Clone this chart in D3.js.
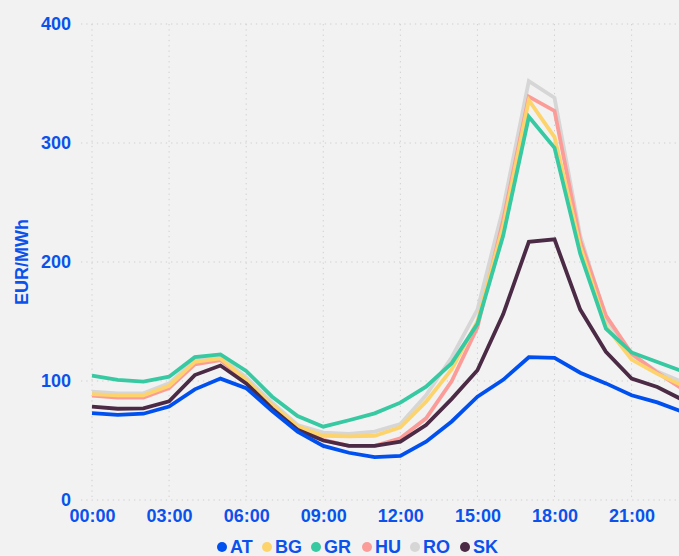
<!DOCTYPE html>
<html>
<head>
<meta charset="utf-8">
<script src="https://cdn.jsdelivr.net/npm/d3@7"></script>
<style>
  html, body { margin: 0; padding: 0; background: #f2f2f2; }
  svg { display: block; }
  text { font-family: "Liberation Sans", Arial, sans-serif; font-weight: bold; }
</style>
</head>
<body>
<svg id="chart" width="679" height="556"></svg>
<script>
const hours = d3.range(24);
const tickHours = [0, 3, 6, 9, 12, 15, 18, 21];
const tickLabels = ["00:00", "03:00", "06:00", "09:00", "12:00", "15:00", "18:00", "21:00"];
const yTicks = [0, 100, 200, 300, 400];
const seriesNames = ["AT", "BG", "GR", "HU", "RO", "SK"];
const seriesColors = ["#0050ef", "#fdd36c", "#36c9a2", "#fc9c98", "#d6d6d6", "#4b2a45"];

const AT = [73, 71.5, 72.5, 78.5, 93, 102, 94, 75, 57.5, 45.5, 39.7, 36, 37, 49, 66, 86.8, 101, 120, 119.5, 107, 98, 88, 82, 74];
const BG = [89, 88, 88, 96, 116, 119, 101, 80, 62, 54, 53.5, 54, 61, 82.6, 110, 150, 230, 336, 305, 213, 146, 118, 106, 96];
const GR = [104.5, 101, 99.5, 103.6, 120, 122.4, 108.5, 87, 70.6, 61.6, 67, 72.8, 81.8, 95.2, 115, 148, 222, 322, 296, 207, 144, 124, 116, 108];
const HU = [87.7, 86, 86, 94, 114, 117.6, 100, 80, 60, 50.5, 45.5, 45.5, 51.8, 68.6, 100, 145, 235, 339, 327, 218, 155, 123, 107, 93];
const RO = [91, 89.6, 89.6, 98, 117.6, 120.4, 103, 82, 63, 56.6, 55.5, 57.4, 63.9, 88, 120, 160, 245, 352, 338, 222, 152, 122, 108, 99];
const SK = [78.4, 76.7, 77, 83, 105, 113, 98, 77, 59, 50, 45.4, 45.4, 49, 63, 85, 109, 156, 217, 219, 160, 124.6, 102, 95, 84];

const seriesValues = { AT, BG, GR, HU, RO, SK };
const drawOrder = ["RO", "HU", "BG", "GR", "SK", "AT"];

const svg = d3.select("#chart");
const W = 679, H = 556;
const blue = "#0b52ec";

svg.append("rect").attr("width", W).attr("height", H).attr("fill", "#f2f2f2");

const x = d3.scaleLinear().domain([0, 23]).range([92, 683]);
const y = d3.scaleLinear().domain([0, 400]).range([500, 24]);

// horizontal grid
svg.append("g").selectAll("line").data(yTicks).join("line")
  .attr("x1", 81).attr("x2", W)
  .attr("y1", d => y(d)).attr("y2", d => y(d))
  .attr("stroke", "#cfcfcf").attr("stroke-width", 1)
  .attr("stroke-dasharray", "1.3,4");

// vertical grid
svg.append("g").selectAll("line").data(tickHours).join("line")
  .attr("x1", d => x(d)).attr("x2", d => x(d))
  .attr("y1", y(400)).attr("y2", y(0))
  .attr("stroke", "#cfcfcf").attr("stroke-width", 1)
  .attr("stroke-dasharray", "1.3,4");

// y axis
const yAxis = d3.axisLeft(y).tickValues(yTicks).tickSize(0).tickPadding(0);
const gy = svg.append("g").attr("transform", "translate(71,0)").call(yAxis);
gy.select(".domain").remove();
gy.selectAll("text").attr("fill", blue).style("font-size", "18px")
  .style("font-family", "'Liberation Sans', Arial, sans-serif").style("font-weight", "bold");

// x axis
const xAxis = d3.axisBottom(x).tickValues(tickHours).tickFormat((d, i) => tickLabels[i]).tickSize(0).tickPadding(0);
const gx = svg.append("g").attr("transform", "translate(0,509)").call(xAxis);
gx.select(".domain").remove();
gx.selectAll("text").attr("fill", blue).style("font-size", "18px")
  .style("font-family", "'Liberation Sans', Arial, sans-serif").style("font-weight", "bold");

// y label
svg.append("text")
  .attr("transform", "translate(28,262) rotate(-90)")
  .attr("text-anchor", "middle")
  .attr("fill", blue)
  .style("font-size", "18px")
  .text("EUR/MWh");

// lines
const line = d3.line().x((d, i) => x(hours[i])).y(d => y(d));
svg.append("g").selectAll("path").data(drawOrder).join("path")
  .attr("d", k => line(seriesValues[k]))
  .attr("fill", "none")
  .attr("stroke", k => seriesColors[seriesNames.indexOf(k)])
  .attr("stroke-width", 3.8)
  .attr("stroke-linejoin", "miter");

// legend
const legendX = [222, 267, 316, 367, 415, 465];
const lg = svg.append("g").selectAll("g").data(seriesNames).join("g")
  .attr("transform", (d, i) => `translate(${legendX[i]},547)`);
lg.append("circle").attr("r", 5).attr("fill", (d, i) => seriesColors[i]);
lg.append("text").attr("x", 8).attr("dy", "0.35em").attr("fill", blue)
  .style("font-size", "18px").text(d => d);
</script>
</body>
</html>
